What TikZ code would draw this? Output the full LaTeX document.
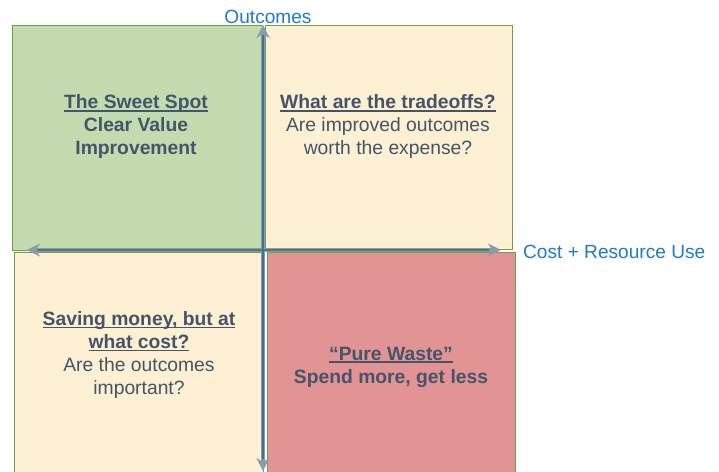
\documentclass[tikz,border=0pt]{standalone}
\usepackage{fontspec}
\setmainfont{Liberation Sans}
\usepackage{tikz}
\usetikzlibrary{arrows.meta}

\newsavebox{\headbox}
\newcommand{\headline}[1]{\sbox{\headbox}{\textbf{#1}}%
  \rlap{\rule[-2.6pt]{\wd\headbox}{1.3pt}}\usebox{\headbox}}

\definecolor{sweetgreen}{HTML}{C4DBB0}
\definecolor{tradeyellow}{HTML}{FDF0D3}
\definecolor{wastered}{HTML}{E29494}
\definecolor{quadline}{HTML}{719E4C}
\definecolor{textslate}{HTML}{44546A}
\definecolor{axisblue}{HTML}{1F7AC9}
\definecolor{axisgray}{HTML}{8C9BA8}
\definecolor{axisline}{HTML}{3D6EA8}
\definecolor{axisteal}{HTML}{4E7B72}

\tikzset{
  quad/.style={draw=quadline, line width=1pt},
  quadtext/.style={text=textslate, align=center, inner sep=0pt,
    font=\fontsize{19.3}{23}\selectfont},
  axislabel/.style={text=axisblue, inner sep=0pt,
    font=\fontsize{19.1}{22}\selectfont},
  axishalo/.style={axisgray, line width=3.5pt,
    {Stealth[length=13pt,width=13pt]}-{Stealth[length=13pt,width=13pt]}}
}

\begin{document}
\begin{tikzpicture}[x=1pt, y=-1pt]
    \useasboundingbox (0,0) rectangle (719,471);

    % quadrants
    \fill[sweetgreen]  (12,25)  rectangle (262,250);
    \fill[tradeyellow] (265,25) rectangle (512,249);
    \fill[tradeyellow] (14,252) rectangle (263,475);
    \fill[wastered]    (267,252) rectangle (515,475);
    \draw[quad] (12,25)  rectangle (262,250);
    \draw[quad] (265,25) rectangle (512,249);
    \draw[quad] (14,252) rectangle (263,475);
    \draw[quad] (267,252) rectangle (515,475);

    % axis ends
    \coordinate (top)    at (263,25);
    \coordinate (bottom) at (263,471);
    \coordinate (left)   at (27,250);
    \coordinate (right)  at (501,250);

    % axes
    \draw[axishalo] (bottom) -- (top);
    \draw[axishalo] (left) -- (right);
    \draw[axisteal, line width=2.2pt, shorten <=10pt, shorten >=12pt] (left) -- (right);
    \draw[axisline, line width=2.2pt, shorten <=12pt, shorten >=10pt] (bottom) -- (top);

    % axis labels
    \node[axislabel] (outcomes) at (268,17) {Outcomes};
    \node[axislabel, anchor=west] (cost) at (523,252) {Cost + Resource Use};

    % quadrant texts
    \node[quadtext] (sweetspot) at (136,127)
      {\headline{The Sweet Spot}\\ \textbf{Clear Value}\\ \textbf{Improvement}};
    \node[quadtext] (tradeoffs) at (388,127)
      {\headline{What are the tradeoffs?}\\ Are improved outcomes\\ worth the expense?};
    \node[quadtext] (saving) at (139,355)
      {\headline{Saving money, but at}\\ \headline{what cost?}\\ Are the outcomes\\ important?};
    \node[quadtext] (waste) at (391,367)
      {\headline{``Pure Waste''}\\ \textbf{Spend more, get less}};
  \end{tikzpicture}
\end{document}
